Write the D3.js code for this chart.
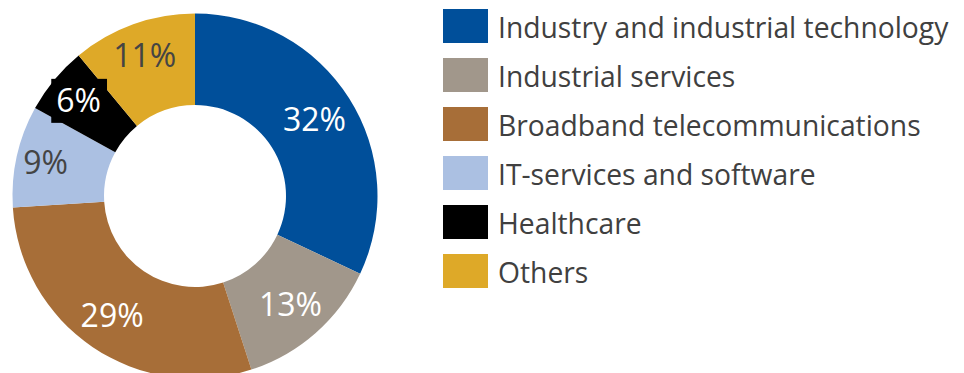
<!DOCTYPE html>
<html>
<head>
<meta charset="utf-8">
<script src="https://cdn.jsdelivr.net/npm/d3@7"></script>
<style>
  html, body { margin: 0; padding: 0; background: #fff; }
  svg { display: block; }
  text { font-family: "Open Sans", "Noto Sans", sans-serif; }
</style>
</head>
<body>
<svg id="chart" width="964" height="373"></svg>
<script>
// Portfolio split by sector (share of total, %)
const sectors = [
  "Industry and industrial technology",
  "Industrial services",
  "Broadband telecommunications",
  "IT-services and software",
  "Healthcare",
  "Others"
];
const shares = [32, 13, 29, 9, 6, 11];
const colors = ["#004f9a", "#a1978b", "#a76e38", "#abc0e2", "#000000", "#dea928"];
const labelColors = ["#ffffff", "#ffffff", "#ffffff", "#444444", "#ffffff", "#444444"];

// small hand nudges so labels sit where they read best inside each ring segment
const labelNudge = [[4, -3.5], [5, 5.5], [-6, 6.5], [-16, -3.5], [-11, -8.5], [-4, -12]];

const svg = d3.select("#chart");
const cx = 195, cy = 196, outerR = 182.5, innerR = 91;

const data = sectors.map((name, i) => ({ name, value: shares[i], color: colors[i], i }));

const pie = d3.pie().value(d => d.value).sort(null);
const arc = d3.arc().innerRadius(innerR).outerRadius(outerR);
const labelArc = d3.arc().innerRadius((innerR + outerR) / 2).outerRadius((innerR + outerR) / 2);

const g = svg.append("g").attr("transform", `translate(${cx},${cy})`);
const arcs = pie(data);

g.selectAll("path.slice")
  .data(arcs)
  .join("path")
  .attr("class", "slice")
  .attr("d", arc)
  .attr("fill", d => d.data.color);

const labels = g.selectAll("g.lbl")
  .data(arcs)
  .join("g")
  .attr("class", "lbl")
  .attr("transform", d => {
    const [x, y] = labelArc.centroid(d);
    const [nx, ny] = labelNudge[d.data.i];
    return `translate(${x + nx},${y + ny})`;
  });

labels.append("text")
  .attr("text-anchor", "middle")
  .attr("dy", "0.36em")
  .attr("font-size", 32)
  .attr("fill", d => labelColors[d.data.i])
  .text(d => d.data.value + "%");

// the thin Healthcare slice gets a solid backing box behind its label
labels.filter(d => d.data.name === "Healthcare").each(function () {
  const grp = d3.select(this);
  const bb = grp.select("text").node().getBBox();
  grp.insert("rect", "text")
    .attr("x", bb.x - 5)
    .attr("y", bb.y + 1)
    .attr("width", bb.width + 11)
    .attr("height", bb.height + 1)
    .attr("fill", "#000");
});

// Legend
const legend = svg.append("g").attr("transform", "translate(443,9)");
const rowH = 49;
const items = legend.selectAll("g.item")
  .data(data)
  .join("g")
  .attr("class", "item")
  .attr("transform", (d, i) => `translate(0,${i * rowH})`);

items.append("rect")
  .attr("width", 45)
  .attr("height", 34)
  .attr("fill", d => d.color);

items.append("text")
  .attr("transform", "translate(55,29) scale(0.975,1)")
  .attr("font-size", 29)
  .attr("fill", "#404040")
  .text(d => d.name);
</script>
</body>
</html>
